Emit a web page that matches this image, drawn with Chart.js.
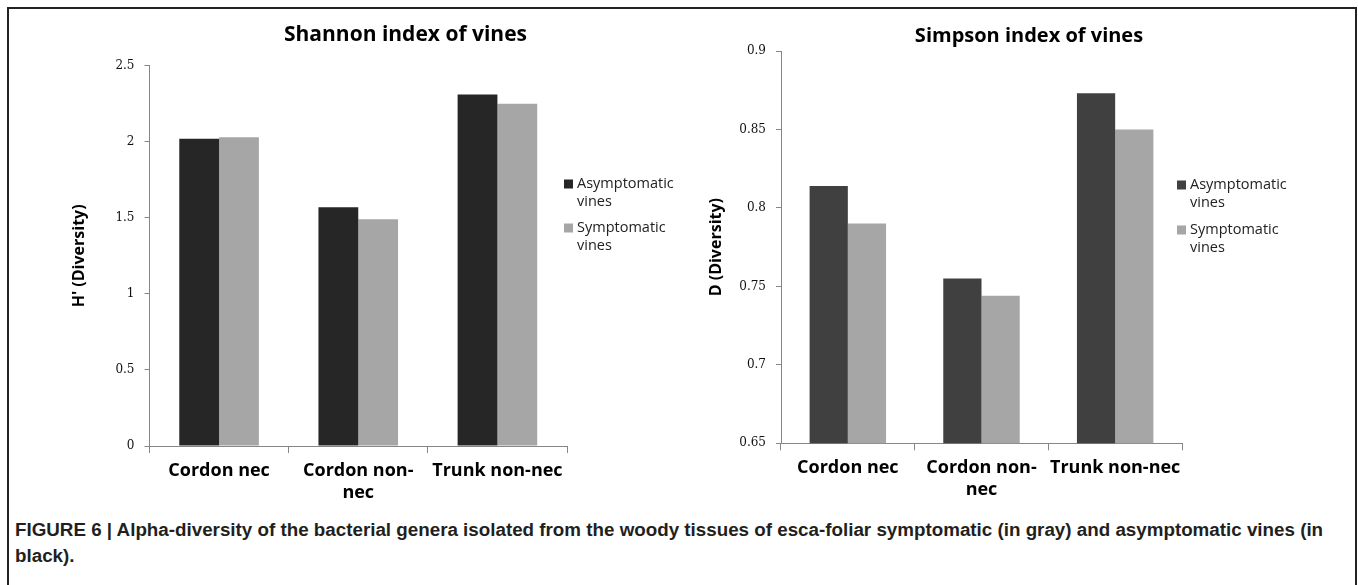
<!DOCTYPE html>
<html>
<head>
<meta charset="utf-8">
<title>Alpha-diversity of vines</title>
<script src="https://cdn.jsdelivr.net/npm/chart.js@4/dist/chart.umd.min.js"></script>
<style>
  html, body { margin: 0; padding: 0; background: #fff; }
  body { width: 1358px; height: 585px; position: relative; overflow: hidden; }
  .frame { position: absolute; left: 7px; top: 7px; width: 1346px; height: 600px; border: 2px solid #222; }
  .panel { position: absolute; top: 0; }
  #shannon_panel { left: 0; }
  #simpson_panel { left: 680px; }
  .caption {
    position: absolute; left: 15px; top: 517px;
    font: bold 18.8px "Liberation Sans", Arial, sans-serif;
    line-height: 26px; color: #231f20; white-space: nowrap;
  }
</style>
</head>
<body>
<div class="frame"></div>
<div class="panel" id="shannon_panel"><canvas id="shannon_chart" width="680" height="510"></canvas></div>
<div class="panel" id="simpson_panel"><canvas id="simpson_chart" width="678" height="510"></canvas></div>
<div class="caption">FIGURE 6 | Alpha-diversity of the bacterial genera isolated from the woody tissues of esca-foliar symptomatic (in gray) and asymptomatic vines (in<br>black).</div>

<script>
    // values
    const categories = ['Cordon nec', ['Cordon non-', 'nec'], 'Trunk non-nec'];
    const seriesNames = ['Asymptomatic vines', 'Symptomatic vines'];

    const shannonAsymptomatic = [2.02, 1.57, 2.31];
    const shannonSymptomatic = [2.03, 1.49, 2.25];
    const shannonTicks = ['0', '0.5', '1', '1.5', '2', '2.5'];

    const simpsonAsymptomatic = [0.814, 0.755, 0.873];
    const simpsonSymptomatic = [0.790, 0.744, 0.850];
    const simpsonTicks = ['0.65', '0.7', '0.75', '0.8', '0.85', '0.9'];

    const axisGrey = '#868686';
    const lightBar = '#a6a6a6';

    // chart title + wrapped legend, placed like the Excel original
    const figureText = {
        id: 'figureText',
        afterDraw: function (chart, args, opts) {
            const ctx = chart.ctx;
            ctx.save();
            ctx.textBaseline = 'middle';
            ctx.textAlign = 'center';
            ctx.fillStyle = '#000';
            ctx.font = opts.titleFont;
            ctx.fillText(opts.title, opts.titleX, opts.titleY);

            ctx.textAlign = 'left';
            ctx.font = '14.5px "Open Sans"';
            chart.data.datasets.forEach((ds, i) => {
                const y = opts.legendY + i * opts.legendGap;
                ctx.fillStyle = ds.backgroundColor;
                ctx.fillRect(opts.legendX, y - 4.5, 9, 9);
                ctx.fillStyle = '#222';
                ds.label.split(' ').forEach((line, j) => {
                    ctx.fillText(line, opts.legendX + 13, y + j * 18);
                });
            });
            ctx.restore();
        },
    };

    function makeChart(id, cfg) {
        const ctx = document.getElementById(id);
        return new Chart(ctx, {
            type: 'bar',
            data: {
                labels: categories,
                datasets: [
                    { label: seriesNames[0], data: cfg.asym, backgroundColor: cfg.darkBar },
                    { label: seriesNames[1], data: cfg.sym, backgroundColor: lightBar },
                ],
            },
            options: {
                responsive: false,
                animation: false,
                categoryPercentage: 0.572,
                barPercentage: 1.0,
                layout: { padding: cfg.padding },
                plugins: {
                    legend: { display: false },
                    title: { display: false },
                    tooltip: { enabled: false },
                    figureText: cfg.text,
                },
                scales: {
                    x: {
                        grid: { drawOnChartArea: false, tickLength: 7, color: axisGrey, offset: true },
                        border: { color: axisGrey },
                        ticks: {
                            color: '#000',
                            padding: 7,
                            maxRotation: 0,
                            autoSkip: false,
                            font: { family: '"Open Sans"', size: 18, weight: 'bold', lineHeight: 22 / 18 },
                        },
                        afterFit: (s) => { s.height = 60; },
                    },
                    y: {
                        min: cfg.min,
                        max: cfg.max,
                        grid: { drawOnChartArea: false, tickLength: 5, color: axisGrey },
                        border: { color: axisGrey },
                        ticks: {
                            stepSize: cfg.step,
                            color: '#111',
                            padding: 10,
                            font: { family: '"DejaVu Serif"', size: 12 },
                            callback: (v, i) => cfg.tickLabels[i],
                        },
                        title: {
                            display: true,
                            text: cfg.yTitle,
                            color: '#000',
                            padding: 0,
                            font: { family: '"Open Sans"', size: 16, weight: 'bold', lineHeight: 1.2 },
                        },
                        afterFit: (s) => { s.width = cfg.yWidth; },
                    },
                },
            },
            plugins: [figureText],
        });
    }

    makeChart('shannon_chart', {
        asym: shannonAsymptomatic,
        sym: shannonSymptomatic,
        darkBar: '#262626',
        min: 0, max: 2.5, step: 0.5,
        tickLabels: shannonTicks,
        yTitle: "H' (Diversity)",
        yWidth: 80,
        padding: { left: 69.5, right: 113, top: 65.7, bottom: 4 },
        text: {
            title: 'Shannon index of vines', titleFont: 'bold 21px "Open Sans"',
            titleX: 405.5, titleY: 35,
            legendX: 564, legendY: 184, legendGap: 44,
        },
    });

    makeChart('simpson_chart', {
        asym: simpsonAsymptomatic,
        sym: simpsonSymptomatic,
        darkBar: '#404040',
        min: 0.65, max: 0.9, step: 0.05,
        tickLabels: simpsonTicks,
        yTitle: 'D (Diversity)',
        yWidth: 74,
        padding: { left: 27, right: 176, top: 51, bottom: 6.7 },
        text: {
            title: 'Simpson index of vines', titleFont: 'bold 20px "Open Sans"',
            titleX: 349, titleY: 36.7,
            legendX: 497, legendY: 185, legendGap: 45,
        },
    });
</script>
</body>
</html>
